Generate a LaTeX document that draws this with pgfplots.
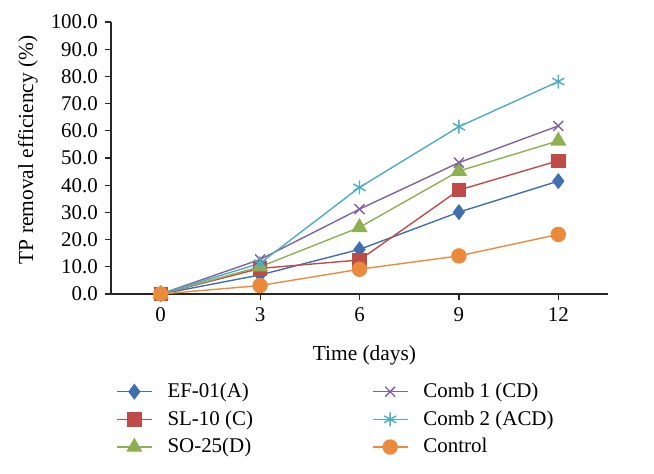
\documentclass[border=0pt]{standalone}
\usepackage{fontspec}
\setmainfont{Liberation Serif}
\usepackage{pgfplots}
\pgfplotsset{compat=1.18}
\definecolor{cA}{HTML}{3F6FB0}
\definecolor{cC}{HTML}{BE4B48}
\definecolor{cD}{HTML}{8FB050}
\definecolor{cCD}{HTML}{7F62A0}
\definecolor{cACD}{HTML}{4BACC6}
\definecolor{cCtl}{HTML}{EB8A3A}
\begin{document}
\fontsize{21}{25}\selectfont
\begin{tikzpicture}
\useasboundingbox (0,0) rectangle (654bp,474bp);
\begin{axis}[
  scale only axis, width=497bp, height=272bp,
  at={(111bp,180bp)}, anchor=south west,
  xmin=-1.5, xmax=13.5, ymin=0, ymax=100,
  axis x line*=bottom, axis y line*=left,
  axis line style={-, line width=1.2pt, black!85},
  xtick={0,3,6,9,12}, ytick={0,10,...,100},
  tick align=outside, major tick length=6bp,
  tick style={line width=1.2pt, black!85},
  /pgf/number format/assume math mode=true,
  yticklabel style={/pgf/number format/.cd, fixed, fixed zerofill, precision=1},
  tick label style={font=\fontsize{21}{25}\selectfont},
  label style={font=\fontsize{21.5}{25}\selectfont},
  xlabel={Time (days)},
  ylabel={TP removal efficiency (\%)},
  xlabel style={at={(axis description cs:0.51,-0.224)}, anchor=center},
  ylabel style={at={(axis description cs:-0.167,0.53)}, anchor=center},
  legend columns=3,
  transpose legend,
  legend cell align=left,
  legend style={draw=none, fill=none, font=\fontsize{21}{25}\selectfont,
    at={(axis description cs:0.004,-0.315)}, anchor=north west,
    nodes={inner sep=1bp},
    /tikz/every odd column/.append style={column sep=14bp},
    /tikz/every even column/.append style={column sep=118bp},
    row sep=8bp},
  legend image code/.code={\draw[mark repeat=2, mark phase=2] plot coordinates {(0bp,0bp) (17.5bp,0bp) (35bp,0bp)};},
  every axis plot/.append style={line width=1.4pt},
]
\addplot[cA, mark=diamond*, mark size=7bp] coordinates {(0,0) (3,7.0) (6,16.4) (9,30.1) (12,41.5)};
\addlegendentry{EF-01(A)}
\addplot[cC, mark=square*, mark size=6.5bp] coordinates {(0,0) (3,9.4) (6,12.5) (9,38.2) (12,49.0)};
\addlegendentry{SL-10 (C)}
\addplot[cD, mark=triangle*, mark size=8bp] coordinates {(0,0) (3,10.0) (6,24.5) (9,45.2) (12,56.3)};
\addlegendentry{SO-25(D)}
\addplot[cCD, mark=x, mark size=7bp, mark options={line width=1.4pt}] coordinates {(0,0) (3,12.7) (6,31.2) (9,48.3) (12,61.8)};
\addlegendentry{Comb 1 (CD)}
\addplot[cACD, mark=asterisk, mark size=7bp, mark options={line width=1.4pt}] coordinates {(0,0) (3,11.3) (6,39.2) (9,61.5) (12,78.1)};
\addlegendentry{Comb 2 (ACD)}
\addplot[cCtl, mark=*, mark size=7bp] coordinates {(0,0) (3,3.1) (6,9.1) (9,14.0) (12,21.9)};
\addlegendentry{Control}
\end{axis}
\end{tikzpicture}
\end{document}
